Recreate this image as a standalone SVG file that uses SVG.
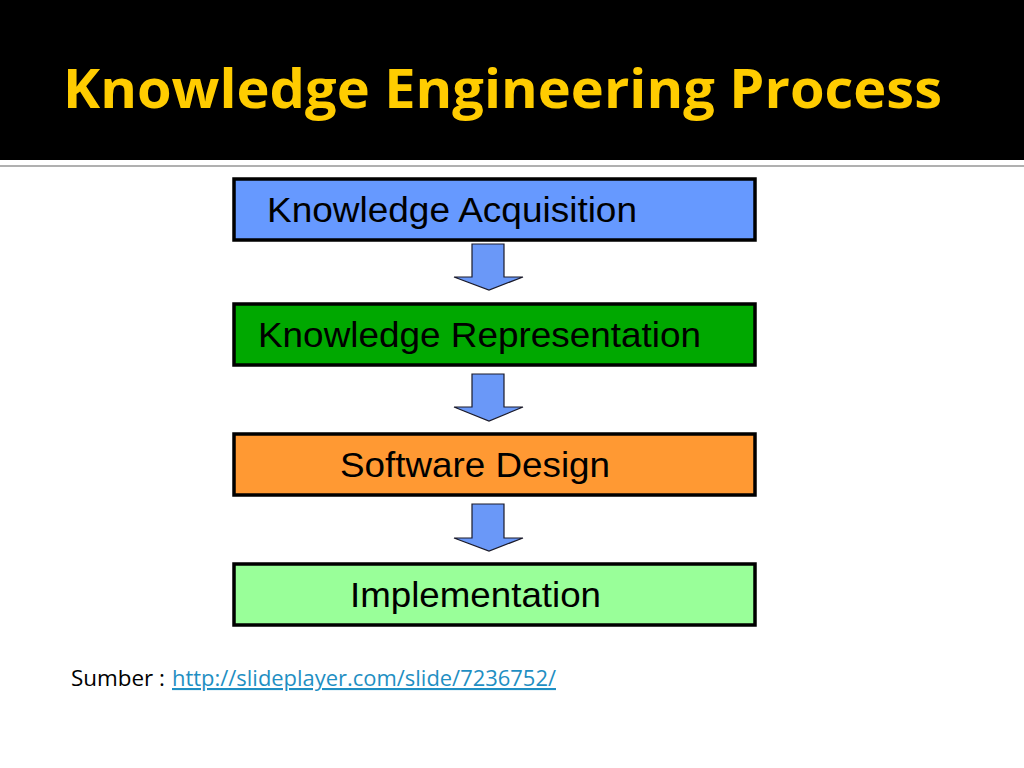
<svg xmlns="http://www.w3.org/2000/svg" width="1024" height="768" viewBox="0 0 1024 768">
<style>
.box{stroke:#000;stroke-width:3.5}
.lbl{font-family:"Liberation Sans",Arial,sans-serif;font-size:35px;fill:#000}
.arr{fill:#6a98f8;stroke:#1a1a2a;stroke-width:1.2;stroke-linejoin:miter}
.foot{font-family:'Open Sans','Liberation Sans',sans-serif;font-size:21px}
</style>
<rect x="0" y="0" width="1024" height="768" fill="#fff"/>
<rect x="0" y="0" width="1024" height="160" fill="#000"/>
<line x1="0" y1="166" x2="1024" y2="166" stroke="#b0b0b0" stroke-width="2"/>
<text x="63" y="108" font-family="'Open Sans','DejaVu Sans',sans-serif" font-weight="bold" font-size="54" fill="#ffcc00" textLength="879" lengthAdjust="spacingAndGlyphs">Knowledge Engineering Process</text>
<g id="n1"><rect class="box" x="234" y="179" width="521" height="61" fill="#6699ff"/><text class="lbl" x="267" y="222" textLength="370" lengthAdjust="spacingAndGlyphs">Knowledge Acquisition</text></g>
<g id="n2"><rect class="box" x="234" y="304" width="521" height="61" fill="#00a800"/><text class="lbl" x="258" y="347" textLength="443" lengthAdjust="spacingAndGlyphs">Knowledge Representation</text></g>
<g id="n3"><rect class="box" x="234" y="434" width="521" height="61" fill="#ff9933"/><text class="lbl" x="340" y="477" textLength="270" lengthAdjust="spacingAndGlyphs">Software Design</text></g>
<g id="n4"><rect class="box" x="234" y="564" width="521" height="61" fill="#99ff99"/><text class="lbl" x="350" y="607" textLength="251" lengthAdjust="spacingAndGlyphs">Implementation</text></g>
<g id="connectors">
<path class="arr" d="M472,244 H504 V277 H523 L489,290 L454,277 H472 Z"/>
<path class="arr" d="M472,374 H504 V407 H523 L489,421 L454,407 H472 Z"/>
<path class="arr" d="M472,504 H504 V538 H523 L489,551 L454,538 H472 Z"/>
</g>
<text class="foot" x="71" y="686" fill="#000" textLength="94" lengthAdjust="spacingAndGlyphs">Sumber :</text>
<text class="foot" x="172" y="686" fill="#1f8fc3" text-decoration="underline" textLength="384" lengthAdjust="spacingAndGlyphs">http://slideplayer.com/slide/7236752/</text>
</svg>
